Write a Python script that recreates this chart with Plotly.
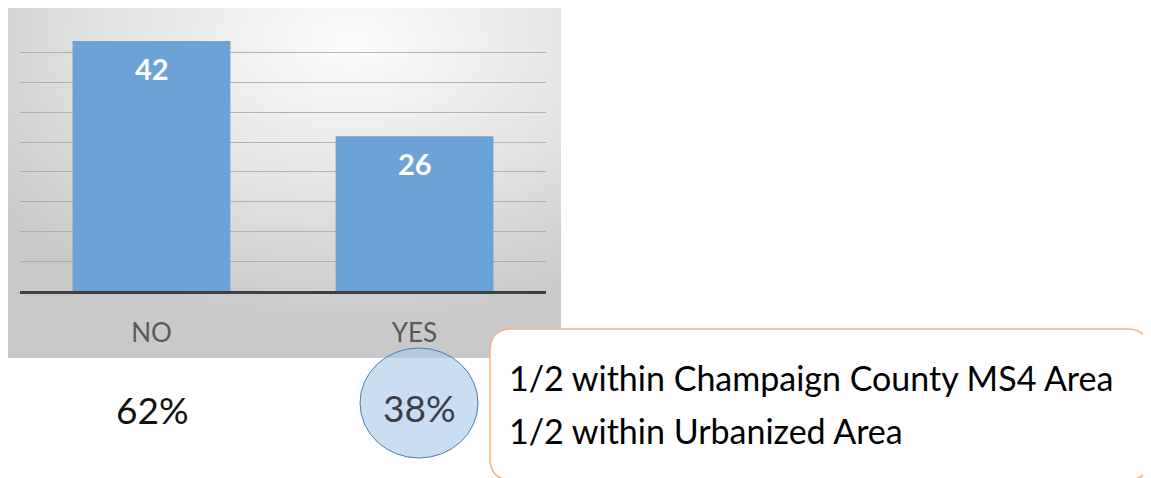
import base64
import plotly.graph_objects as go

# ---- data ----
categories = ["NO", "YES"]
counts = [42, 26]
note_lines = ["1/2 within Champaign County MS4 Area", "1/2 within Urbanized Area"]

total = sum(counts)
percents = [f"{round(100 * c / total)}%" for c in counts]

# page body has an 8px default margin; size the figure to fit the window
OFF = 8
W, H = 1151 - OFF, 478 - OFF
FONT = "Lato"


def px(x):
    return (x - OFF) / W


def py(y):
    return 1 - (y - OFF) / H


# gradient background panel as svg image
svg = (
    "<svg xmlns='http://www.w3.org/2000/svg' width='553' height='351' preserveAspectRatio='none'>"
    "<defs><radialGradient id='g' cx='0.62' cy='0.1' r='0.8'>"
    "<stop offset='0' stop-color='#fcfcfc'/><stop offset='0.55' stop-color='#e3e3e3'/>"
    "<stop offset='1' stop-color='#c9c9c9'/></radialGradient></defs>"
    "<rect width='100%' height='100%' fill='url(#g)'/></svg>"
)
svg_uri = "data:image/svg+xml;base64," + base64.b64encode(svg.encode()).decode()

fig = go.Figure()
fig.add_trace(go.Bar(
    x=categories, y=counts,
    marker=dict(color="#6ca3d7", line=dict(width=0)),
    hoverinfo="skip",
))

annotations = []
for c, v in zip(categories, counts):
    annotations.append(dict(
        x=c, y=v, xref="x", yref="y", text=str(v), showarrow=False,
        yanchor="middle", yshift=-27,
        font=dict(family=FONT, size=29, color="white", weight="bold"),
    ))

# percentages below
annotations.append(dict(x=px(152), y=py(409), xref="paper", yref="paper", text=percents[0],
                        xanchor="center", yanchor="middle", showarrow=False,
                        font=dict(family=FONT, size=37, color="#111111")))
annotations.append(dict(x=px(419), y=py(407), xref="paper", yref="paper", text=percents[1],
                        xanchor="center", yanchor="middle", showarrow=False,
                        font=dict(family=FONT, size=37, color="#3a3f45")))
for i, line in enumerate(note_lines):
    annotations.append(dict(x=px(507), y=py(377 + 53 * i), xref="paper", yref="paper", text=line,
                            xanchor="left", yanchor="middle", showarrow=False,
                            font=dict(family=FONT, size=34, color="#000000")))

# rounded box
x0, x1 = px(490), px(1149)
y0, y1 = py(329), py(480)
rx, ry = 22 / W, 22 / H
box_path = (
    f"M {x0 + rx},{y0} L {x1 - rx},{y0} Q {x1},{y0} {x1},{y0 - ry} "
    f"L {x1},{y1 + ry} Q {x1},{y1} {x1 - rx},{y1} L {x0 + rx},{y1} "
    f"Q {x0},{y1} {x0},{y1 + ry} L {x0},{y0 - ry} Q {x0},{y0} {x0 + rx},{y0} Z"
)

shapes = [
    dict(type="circle", xref="paper", yref="paper",
         x0=px(360), x1=px(478), y0=py(458), y1=py(348),
         fillcolor="rgba(170,202,234,0.62)", line=dict(color="#4a7db0", width=1)),
    dict(type="path", xref="paper", yref="paper", path=box_path,
         fillcolor="white", line=dict(color="#f4b183", width=1.5)),
]

fig.update_layout(
    width=W, height=H,
    margin=dict(l=0, r=0, t=0, b=0),
    paper_bgcolor="white", plot_bgcolor="rgba(0,0,0,0)",
    showlegend=False,
    bargap=0.4,
    images=[dict(source=svg_uri, xref="paper", yref="paper",
                 x=px(8), y=py(7), sizex=px(561) - px(8), sizey=py(7) - py(358),
                 xanchor="left", yanchor="top", sizing="stretch", layer="below")],
    xaxis=dict(domain=[px(20), px(546)], showgrid=False, zeroline=False,
               showline=True, linecolor="#404040", linewidth=3,
               ticks="", ticklabelstandoff=17,
               tickfont=dict(family=FONT, size=26, color="#595959")),
    yaxis=dict(domain=[py(291), py(23.2)], range=[0, 45], dtick=5,
               showgrid=True, gridcolor="rgba(160,160,160,0.75)", gridwidth=1,
               zeroline=False, showticklabels=False, ticks=""),
    annotations=annotations,
    shapes=shapes,
)

fig.write_html("out.html")
